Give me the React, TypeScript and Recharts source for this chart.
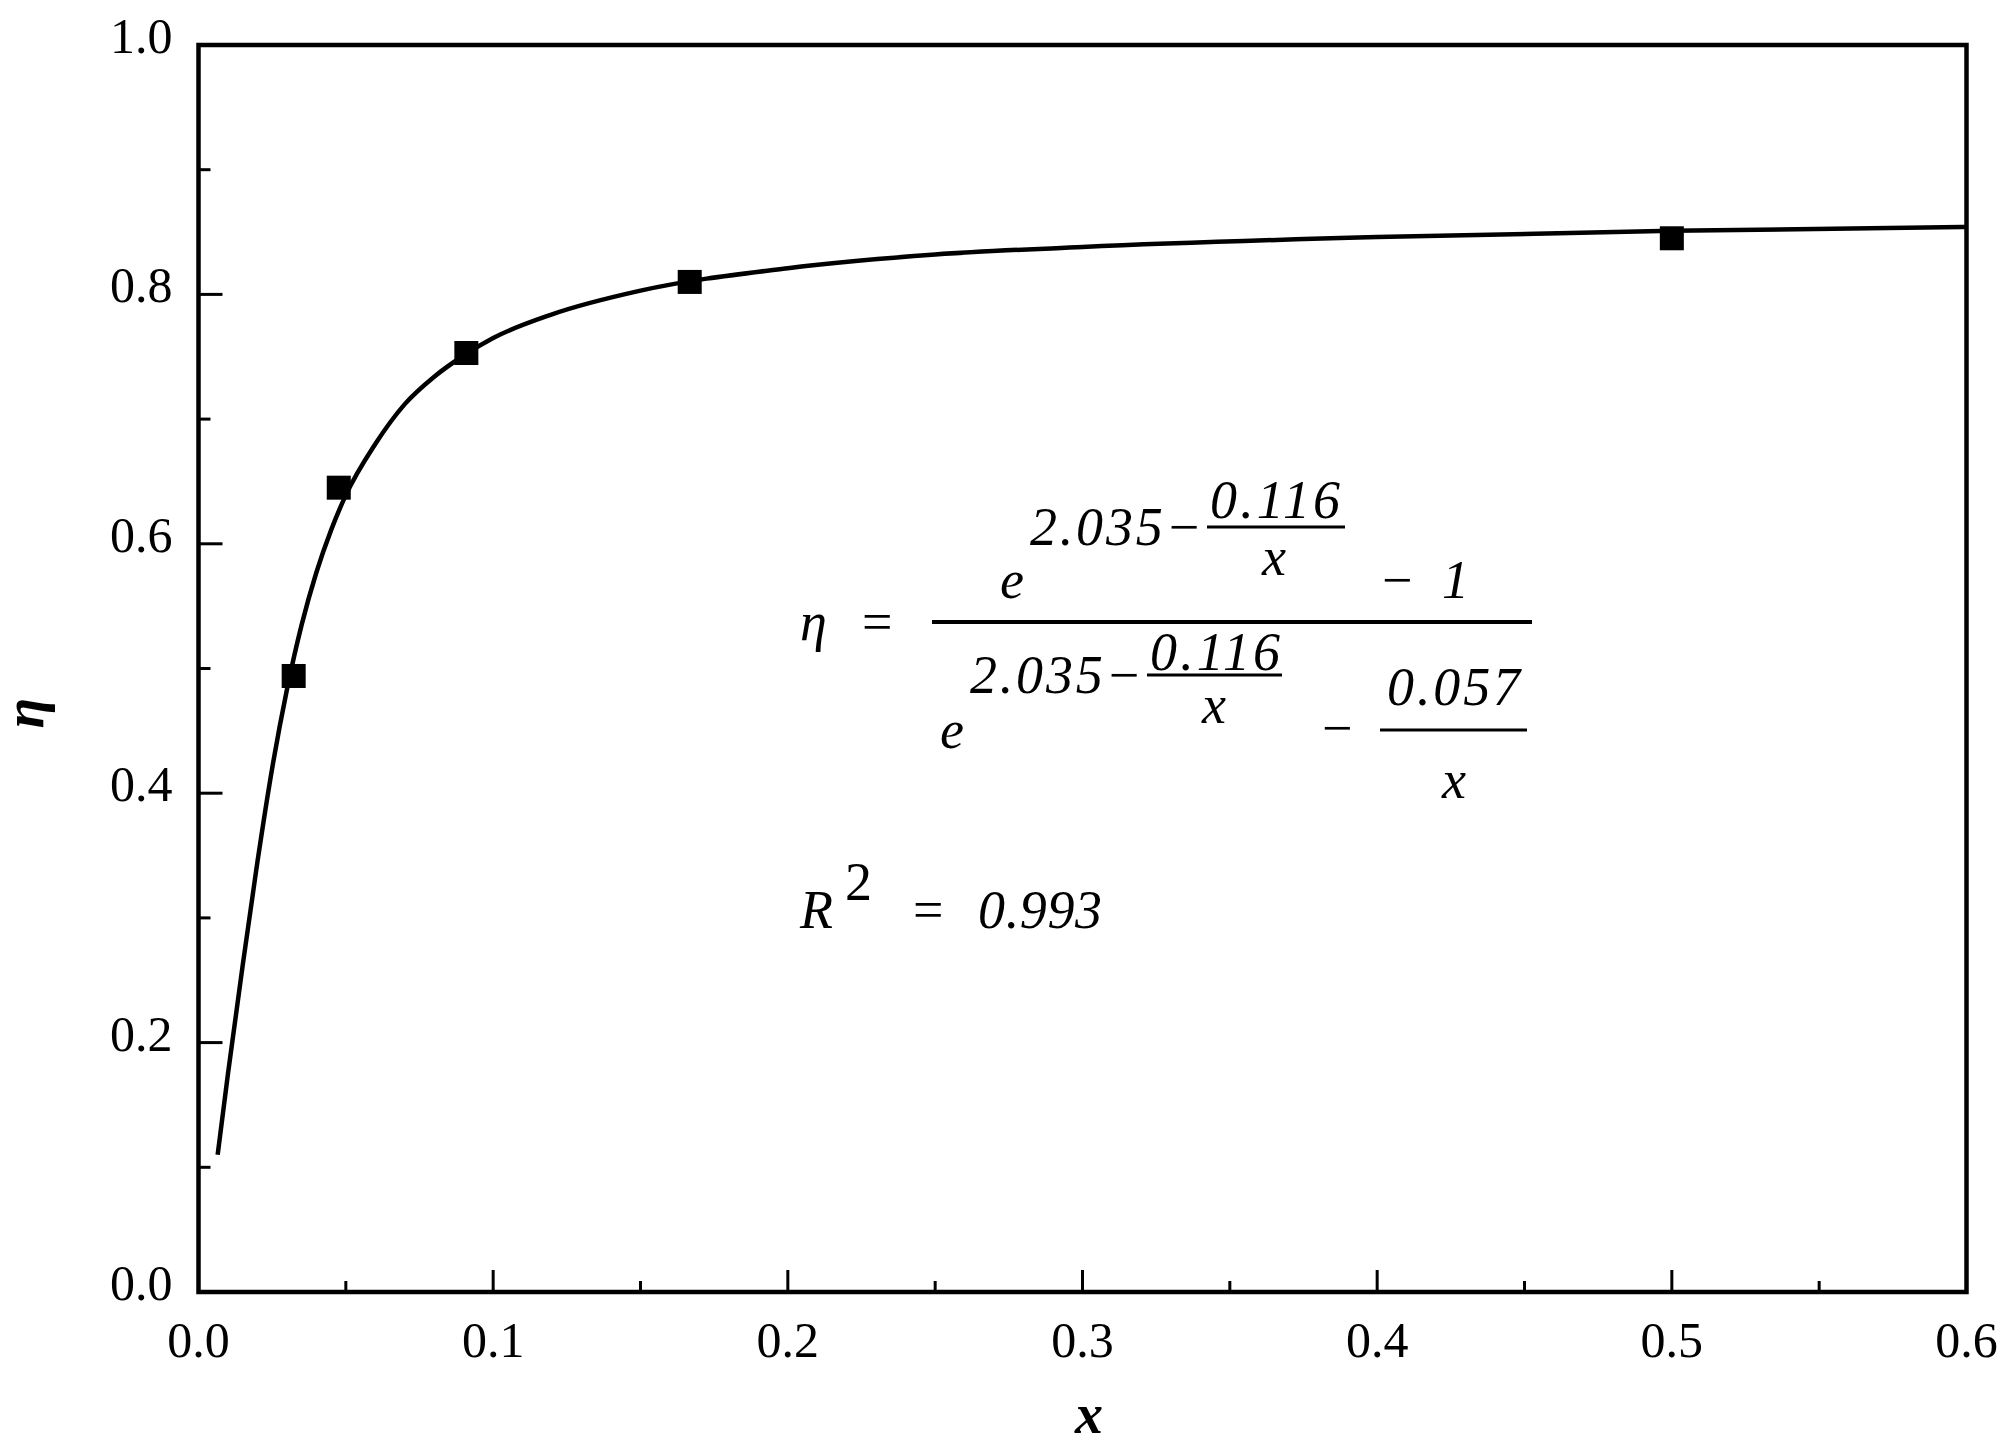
import React from "react";
import { ComposedChart, Line, Scatter, XAxis, YAxis, ReferenceArea } from "recharts";

// fitted curve
const fitX = [0.0065, 0.01, 0.015, 0.02, 0.025, 0.03, 0.035, 0.04, 0.045, 0.05, 0.06, 0.07, 0.08, 0.09, 0.1, 0.12, 0.15, 0.2, 0.25, 0.3, 0.4, 0.5, 0.6];
const fitEta = [0.11, 0.175, 0.262, 0.345, 0.42, 0.483, 0.535, 0.577, 0.611, 0.639, 0.68, 0.712, 0.734, 0.751, 0.765, 0.784, 0.803, 0.821, 0.832, 0.838, 0.846, 0.851, 0.854];

// measured points
const expX = [0.0323, 0.0476, 0.0909, 0.1667, 0.5];
const expEta = [0.494, 0.645, 0.753, 0.81, 0.845];

const xTicks = [0, 0.05, 0.1, 0.15, 0.2, 0.25, 0.3, 0.35, 0.4, 0.45, 0.5, 0.55, 0.6];
const yTicks = [0, 0.1, 0.2, 0.3, 0.4, 0.5, 0.6, 0.7, 0.8, 0.9, 1.0];

const fitData = fitX.map((x, i) => ({ x, y: fitEta[i] }));
const expData = expX.map((x, i) => ({ x, y: expEta[i] }));

const serif = "'Liberation Serif', 'Times New Roman', serif";

const XTick = (props: any) => {
  const { x, y, payload } = props;
  const v = payload.value;
  const major = Math.abs(v * 10 - Math.round(v * 10)) < 1e-6;
  return (
    <g>
      <line x1={x} x2={x} y1={y} y2={y - (major ? 22 : 11)} stroke="#000" strokeWidth={3} />
      {major && (
        <text x={x} y={y + 65} textAnchor="middle" fontFamily={serif} fontSize={50} fill="#000">
          {v.toFixed(1)}
        </text>
      )}
    </g>
  );
};

const YTick = (props: any) => {
  const { x, y, payload } = props;
  const v = payload.value;
  const major = Math.round(v * 10) % 2 === 0;
  return (
    <g>
      <line x1={x} x2={x + (major ? 24 : 12)} y1={y} y2={y} stroke="#000" strokeWidth={3} />
      {major && (
        <text x={x - 26} y={y + 8} textAnchor="end" fontFamily={serif} fontSize={50} fill="#000">
          {v.toFixed(1)}
        </text>
      )}
    </g>
  );
};

const Square = (props: any) => (
  <rect x={props.cx - 12} y={props.cy - 12} width={24} height={24} fill="#000" />
);

const Formula = () => {
  const it = { fontFamily: serif, fontStyle: "italic", fontSize: 54, fill: "#000" } as const;
  const up = { fontFamily: serif, fontSize: 54, fill: "#000" } as const;
  return (
    <svg width={2013} height={1449} style={{ position: "absolute", left: 0, top: 0, pointerEvents: "none" }}>
      <text x={800} y={640} {...it}>η</text>
      <text x={862} y={640} {...up}>=</text>
      <line x1={932} x2={1532} y1={622} y2={622} stroke="#000" strokeWidth={4} />

      {/* numerator */}
      <text x={1000} y={598} {...it}>e</text>
      <text x={1030} y={545} {...it} textLength={172} lengthAdjust="spacing">2.035−</text>
      <text x={1210} y={518} {...it} textLength={130} lengthAdjust="spacing">0.116</text>
      <line x1={1207} x2={1345} y1={527} y2={527} stroke="#000" strokeWidth={3} />
      <text x={1262} y={575} {...it}>x</text>
      <text x={1382} y={598} {...up}>−</text>
      <text x={1442} y={598} {...it}>1</text>

      {/* denominator */}
      <text x={940} y={748} {...it}>e</text>
      <text x={970} y={693} {...it} textLength={172} lengthAdjust="spacing">2.035−</text>
      <text x={1150} y={670} {...it} textLength={130} lengthAdjust="spacing">0.116</text>
      <line x1={1147} x2={1282} y1={675} y2={675} stroke="#000" strokeWidth={3} />
      <text x={1202} y={723} {...it}>x</text>
      <text x={1322} y={746} {...up}>−</text>
      <text x={1387} y={705} {...it} textLength={133} lengthAdjust="spacing">0.057</text>
      <line x1={1380} x2={1527} y1={730} y2={730} stroke="#000" strokeWidth={3} />
      <text x={1442} y={798} {...it}>x</text>

      {/* goodness of fit */}
      <text x={800} y={928} {...it}>R</text>
      <text x={845} y={900} {...up}>2</text>
      <text x={913} y={928} {...up}>=</text>
      <text x={978} y={928} {...it} textLength={124} lengthAdjust="spacing">0.993</text>

      {/* axis titles */}
      <text x={1089} y={1433} textAnchor="middle" fontFamily={serif} fontStyle="italic" fontWeight="bold" fontSize={56} fill="#000">x</text>
      <text x={43} y={713} textAnchor="middle" transform="rotate(-90 43 713)" fontFamily={serif} fontStyle="italic" fontWeight="bold" fontSize={56} fill="#000">η</text>
    </svg>
  );
};

export default function App() {
  return (
    <div style={{ position: "absolute", left: 0, top: 0, width: 2013, height: 1449, background: "#fff" }}>
      <ComposedChart width={2013} height={1449} margin={{ top: 45, right: 46.5, bottom: 37, left: 48.5 }}>
        <XAxis
          dataKey="x"
          type="number"
          domain={[0, 0.6]}
          ticks={xTicks}
          interval={0}
          height={120}
          axisLine={false}
          tickLine={false}
          tickSize={0}
          tickMargin={0}
          tick={<XTick />}
        />
        <YAxis
          type="number"
          domain={[0, 1]}
          ticks={yTicks}
          interval={0}
          width={150}
          axisLine={false}
          tickLine={false}
          tickSize={0}
          tickMargin={0}
          tick={<YTick />}
        />
        <ReferenceArea x1={0} x2={0.6} y1={0} y2={1} fill="none" stroke="#000" strokeWidth={4.5} />
        <Line
          data={fitData}
          dataKey="y"
          type="monotone"
          stroke="#000"
          strokeWidth={4.5}
          dot={false}
          activeDot={false}
          isAnimationActive={false}
        />
        <Scatter data={expData} dataKey="y" shape={<Square />} isAnimationActive={false} />
      </ComposedChart>
      <Formula />
    </div>
  );
}
